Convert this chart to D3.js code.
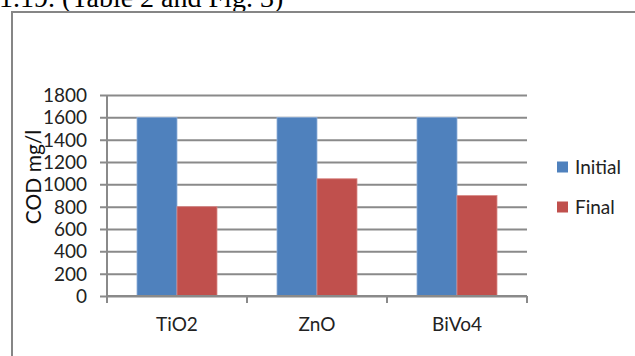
<!DOCTYPE html>
<html>
<head>
<meta charset="utf-8">
<script src="https://cdn.jsdelivr.net/npm/d3@7"></script>
<style>
  html, body { margin: 0; padding: 0; background: #fff; }
  svg { display: block; }
</style>
</head>
<body>
<svg id="chart" width="635" height="356"></svg>
<script>
// Catalysts and COD readings (mg/l)
const categories = ["TiO2", "ZnO", "BiVo4"];
const seriesNames = ["Initial", "Final"];
const initialValues = [1600, 1600, 1600];
const finalValues = [800, 1050, 900];
const yTicks = [0, 200, 400, 600, 800, 1000, 1200, 1400, 1600, 1800];

const colors = { Initial: "#4F81BD", Final: "#C0504D" };
const edges = { Initial: "#8FB0DA", Final: "#D98A88" };
const gridColor = "#8A8A8A";
const labelFont = "Lato, 'Open Sans', sans-serif";

const svg = d3.select("#chart");

// Caption line above the chart frame (cut at the top edge)
svg.append("text")
  .attr("x", -1).attr("y", 7)
  .attr("font-family", "'Liberation Serif', 'Times New Roman', serif")
  .attr("font-size", 28)
  .attr("fill", "#000")
  .text("1.19. (Table 2 and Fig. 3)");

// Chart frame: top and left edges
svg.append("path")
  .attr("d", "M12,356 V12 H635")
  .attr("fill", "none")
  .attr("stroke", "#868686")
  .attr("stroke-width", 2);

const plot = { left: 107, right: 527, top: 95, bottom: 296 };

const y = d3.scaleLinear().domain([0, 1800]).range([plot.bottom, plot.top]);
const x = d3.scaleBand().domain(categories)
  .range([plot.left, plot.right])
  .paddingInner(3 / 7).paddingOuter(3 / 14);
const xInner = d3.scaleBand().domain(seriesNames).range([0, x.bandwidth()]);

// Horizontal gridlines with left tick marks
const yAxis = d3.axisLeft(y).tickValues(yTicks)
  .tickSize(-(plot.right - plot.left)).tickPadding(0).tickFormat("");
const gy = svg.append("g").attr("transform", `translate(${plot.left},0)`).call(yAxis);
gy.select(".domain").remove();
gy.selectAll(".tick line")
  .attr("x1", -7)
  .attr("stroke", gridColor).attr("stroke-width", 2);

// Y tick labels
svg.append("g").selectAll("text").data(yTicks).join("text")
  .attr("x", 87).attr("y", d => y(d))
  .attr("dy", "0.36em")
  .attr("text-anchor", "end")
  .attr("font-family", labelFont).attr("font-size", 19)
  .attr("fill", "#222")
  .text(d => d);

// Y axis line
svg.append("line")
  .attr("x1", plot.left).attr("x2", plot.left)
  .attr("y1", y(1800)).attr("y2", y(0))
  .attr("stroke", gridColor).attr("stroke-width", 2);

// Bars
const rows = categories.map((c, i) => ({ cat: c, Initial: initialValues[i], Final: finalValues[i] }));
const groups = svg.append("g").selectAll("g").data(rows).join("g")
  .attr("transform", d => `translate(${x(d.cat)},0)`);
groups.selectAll("rect")
  .data(d => seriesNames.map(s => ({ s, v: d[s] })))
  .join("rect")
  .attr("x", d => xInner(d.s))
  .attr("width", xInner.bandwidth())
  .attr("y", d => y(d.v))
  .attr("height", d => y(0) - y(d.v))
  .attr("fill", d => colors[d.s])
  .attr("stroke", d => edges[d.s])
  .attr("stroke-width", 0.8);

// X axis line and category ticks
svg.append("line")
  .attr("x1", plot.left).attr("x2", plot.right)
  .attr("y1", plot.bottom).attr("y2", plot.bottom)
  .attr("stroke", gridColor).attr("stroke-width", 2);
const step = x.step();
const boundaries = d3.range(categories.length + 1).map(i => plot.left + i * step);
svg.append("g").selectAll("line").data(boundaries).join("line")
  .attr("x1", d => d).attr("x2", d => d)
  .attr("y1", plot.bottom).attr("y2", plot.bottom + 7)
  .attr("stroke", gridColor).attr("stroke-width", 2);

// Category labels
svg.append("g").selectAll("text").data(categories).join("text")
  .attr("x", d => x(d) + x.bandwidth() / 2)
  .attr("y", 331)
  .attr("text-anchor", "middle")
  .attr("font-family", labelFont).attr("font-size", 19)
  .attr("fill", "#222")
  .text(d => d);

// Y axis title
svg.append("text")
  .attr("transform", `translate(41,177) rotate(-90)`)
  .attr("text-anchor", "middle")
  .attr("font-family", labelFont).attr("font-size", 21)
  .attr("fill", "#111")
  .text("COD mg/l");

// Legend
const legend = svg.append("g").selectAll("g").data(seriesNames).join("g")
  .attr("transform", (d, i) => `translate(557,${167 + i * 40})`);
legend.append("rect")
  .attr("x", 0).attr("y", -5.5).attr("width", 11).attr("height", 11)
  .attr("fill", d => colors[d]);
legend.append("text")
  .attr("x", 18).attr("y", 0).attr("dy", "0.36em")
  .attr("font-family", labelFont).attr("font-size", 19)
  .attr("fill", "#222")
  .text(d => d);
</script>
</body>
</html>
